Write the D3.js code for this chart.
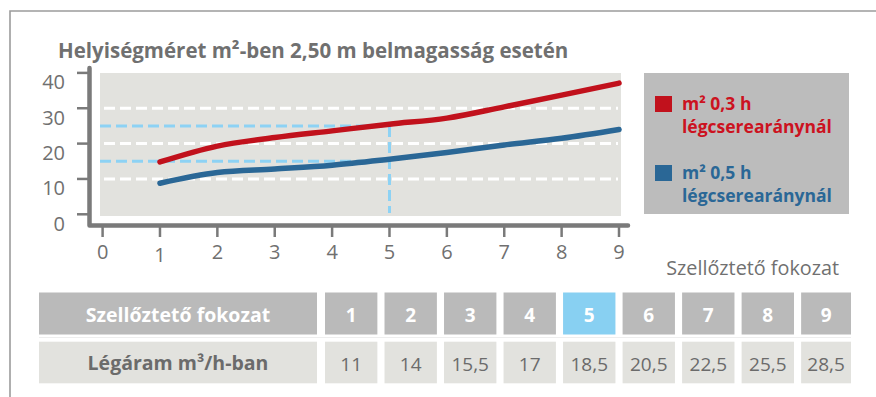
<!DOCTYPE html>
<html>
<head>
<meta charset="utf-8">
<script src="https://cdn.jsdelivr.net/npm/d3@7"></script>
<style>
  html, body { margin: 0; padding: 0; background: #fff; }
  svg { display: block; font-family: "Open Sans", Lato, sans-serif; }
</style>
</head>
<body>
<svg id="chart" width="876" height="397"></svg>
<script>
// Ventilation levels and room sizes (m²) for a 2.50 m ceiling height
const levels = [1, 2, 3, 4, 5, 6, 7, 8, 9];
const area03 = [14.8, 19.3, 21.7, 23.6, 25.5, 27.2, 30.4, 33.7, 37.1];   // 0.3 h air change rate
const area05 = [8.8, 11.8, 12.8, 13.9, 15.6, 17.5, 19.6, 21.5, 24.0];    // 0.5 h air change rate
const airflow = ["11", "14", "15,5", "17", "18,5", "20,5", "22,5", "25,5", "28,5"]; // m³/h
const xTicks = [0, 1, 2, 3, 4, 5, 6, 7, 8, 9];
const yTicks = [0, 10, 20, 30, 40];
const gridValues = [10, 20, 30];
const guideLevel = 5;          // highlighted level
const guideValues = [25, 15];  // reference values read at the highlighted level

const title = "Helyiségméret m²-ben 2,50 m belmagasság esetén";
const xTitle = "Szellőztető fokozat";
const legendItems = [
  { lines: ["m² 0,3 h", "légcserearánynál"], color: "#c1111c", text: "#cc1220" },
  { lines: ["m² 0,5 h", "légcserearánynál"], color: "#2a6796", text: "#2a6796" }
];
const rowHeads = ["Szellőztető fokozat", "Légáram m³/h-ban"];

const svg = d3.select("#chart");
const axisGray = "#7a7a7a";
const textGray = "#707070";

// outer frame (top and left rule)
svg.append("path")
  .attr("d", "M10,397V11H876")
  .attr("fill", "none").attr("stroke", "#9c9c9c").attr("stroke-width", 1.6);

svg.append("text")
  .attr("x", 58).attr("y", 58)
  .attr("font-size", 20.5).attr("font-weight", 700)
  .attr("fill", textGray)
  .text(title);

// scales
const x = d3.scaleLinear().domain([0, 9]).range([102.6, 619]);
const y = d3.scaleLinear().domain([0, 40]).range([214.3, 72.9]);

// plot background
svg.append("rect")
  .attr("x", 100).attr("y", 73).attr("width", 521).attr("height", 143)
  .attr("fill", "#e2e2de");

// white dashed gridlines
svg.append("g").selectAll("line").data(gridValues).join("line")
  .attr("x1", 104).attr("x2", 618)
  .attr("y1", d => y(d)).attr("y2", d => y(d))
  .attr("stroke", "#ffffff").attr("stroke-width", 3)
  .attr("stroke-dasharray", "11,5");

// light blue guide lines for the highlighted level
const guide = svg.append("g")
  .attr("stroke", "#8dd2f4").attr("stroke-width", 3)
  .attr("stroke-dasharray", "11,5").attr("fill", "none");
guide.selectAll("line.h").data(guideValues).join("line")
  .attr("class", "h")
  .attr("x1", 100).attr("x2", x(guideLevel))
  .attr("y1", d => y(d)).attr("y2", d => y(d));
guide.append("line")
  .attr("x1", x(guideLevel)).attr("x2", x(guideLevel))
  .attr("y1", y(d3.max(guideValues))).attr("y2", 213);

// series lines
const line = d3.line()
  .x((d, i) => x(levels[i]))
  .y(d => y(d))
  .curve(d3.curveMonotoneX);

[area03, area05].forEach((series, i) => {
  svg.append("path")
    .datum(series)
    .attr("d", line)
    .attr("fill", "none")
    .attr("stroke", legendItems[i].color)
    .attr("stroke-width", 5.5)
    .attr("stroke-linecap", "round")
    .attr("stroke-linejoin", "round");
});

// axes
const axisX0 = 89.5, axisY0 = 225.5;
svg.append("path")
  .attr("d", `M${axisX0},68V${axisY0}H628`)
  .attr("fill", "none").attr("stroke", axisGray)
  .attr("stroke-width", 4.5).attr("stroke-linecap", "round").attr("stroke-linejoin", "round");

const yAxis = svg.append("g");
yAxis.selectAll("line").data(yTicks).join("line")
  .attr("x1", 77).attr("x2", axisX0)
  .attr("y1", d => y(d)).attr("y2", d => y(d))
  .attr("stroke", axisGray).attr("stroke-width", 2.5);
yAxis.selectAll("text").data(yTicks).join("text")
  .attr("x", 65).attr("y", d => y(d) + 16.5)
  .attr("text-anchor", "end")
  .attr("font-size", 20).attr("fill", textGray)
  .text(d => d);

const xAxis = svg.append("g");
xAxis.selectAll("line").data(xTicks).join("line")
  .attr("x1", d => x(d)).attr("x2", d => x(d))
  .attr("y1", axisY0).attr("y2", 237)
  .attr("stroke", axisGray).attr("stroke-width", 2.5);
xAxis.selectAll("text").data(xTicks).join("text")
  .attr("x", d => x(d)).attr("y", d => d === 1 ? 262 : 259)
  .attr("text-anchor", "middle")
  .attr("font-size", 20).attr("fill", textGray)
  .text(d => d);

svg.append("text")
  .attr("x", 839).attr("y", 275)
  .attr("text-anchor", "end")
  .attr("font-size", 19.8).attr("fill", textGray)
  .text(xTitle);

// legend
svg.append("rect")
  .attr("x", 644).attr("y", 73).attr("width", 205).attr("height", 141)
  .attr("fill", "#bcbcbc");
const leg = svg.append("g").selectAll("g").data(legendItems).join("g")
  .attr("transform", (d, i) => `translate(0,${i * 69})`);
leg.append("rect")
  .attr("x", 655).attr("y", 96).attr("width", 17).attr("height", 16)
  .attr("fill", d => d.color);
leg.append("text")
  .attr("font-size", 17.5).attr("font-weight", 700)
  .attr("fill", d => d.text)
  .selectAll("tspan").data(d => d.lines).join("tspan")
  .attr("x", 682).attr("y", (d, i) => 110 + i * 23)
  .text(d => d);

// table: ventilation level and airflow
const cellX = d3.scaleBand().domain(levels).range([325, 853.5]).paddingInner(0.12).paddingOuter(0);
const tableLeft = 39, headCol = 317, tableRight = 851;
const rows = [
  { y: 292.5, h: 42, fill: "#bababa" },
  { y: 341.7, h: 41.6, fill: "#e2e2de" }
];

svg.append("line")
  .attr("x1", tableLeft).attr("x2", tableRight)
  .attr("y1", 337.5).attr("y2", 337.5)
  .attr("stroke", "#eeeeee").attr("stroke-width", 1);

rows.forEach((r, ri) => {
  svg.append("rect")
    .attr("x", tableLeft).attr("y", r.y).attr("width", headCol - tableLeft).attr("height", r.h)
    .attr("fill", r.fill);
  svg.append("text")
    .attr("x", (tableLeft + headCol) / 2).attr("y", ri === 0 ? 321.7 : 370)
    .attr("text-anchor", "middle")
    .attr("font-size", 19.5).attr("font-weight", 700)
    .attr("fill", ri === 0 ? "#ffffff" : "#6b6b6b")
    .text(rowHeads[ri]);
  svg.append("g").selectAll("rect").data(levels).join("rect")
    .attr("x", d => cellX(d))
    .attr("y", r.y).attr("height", r.h)
    .attr("width", (d, i) => i === levels.length - 1 ? tableRight - cellX(d) : cellX.bandwidth())
    .attr("fill", d => (ri === 0 && d === guideLevel) ? "#88d0f2" : r.fill);
});

const cellCenter = (d, i) => {
  const left = cellX(d);
  const right = i === levels.length - 1 ? tableRight : left + cellX.bandwidth();
  return (left + right) / 2;
};
svg.append("g").selectAll("text").data(levels).join("text")
  .attr("x", cellCenter).attr("y", 322)
  .attr("text-anchor", "middle")
  .attr("font-size", 19).attr("font-weight", 700).attr("fill", "#ffffff")
  .text(d => d);
svg.append("g").selectAll("text").data(airflow).join("text")
  .attr("x", (d, i) => cellCenter(levels[i], i)).attr("y", 371)
  .attr("text-anchor", "middle")
  .attr("font-size", 19).attr("fill", "#6b6b6b")
  .text(d => d);
</script>
</body>
</html>
